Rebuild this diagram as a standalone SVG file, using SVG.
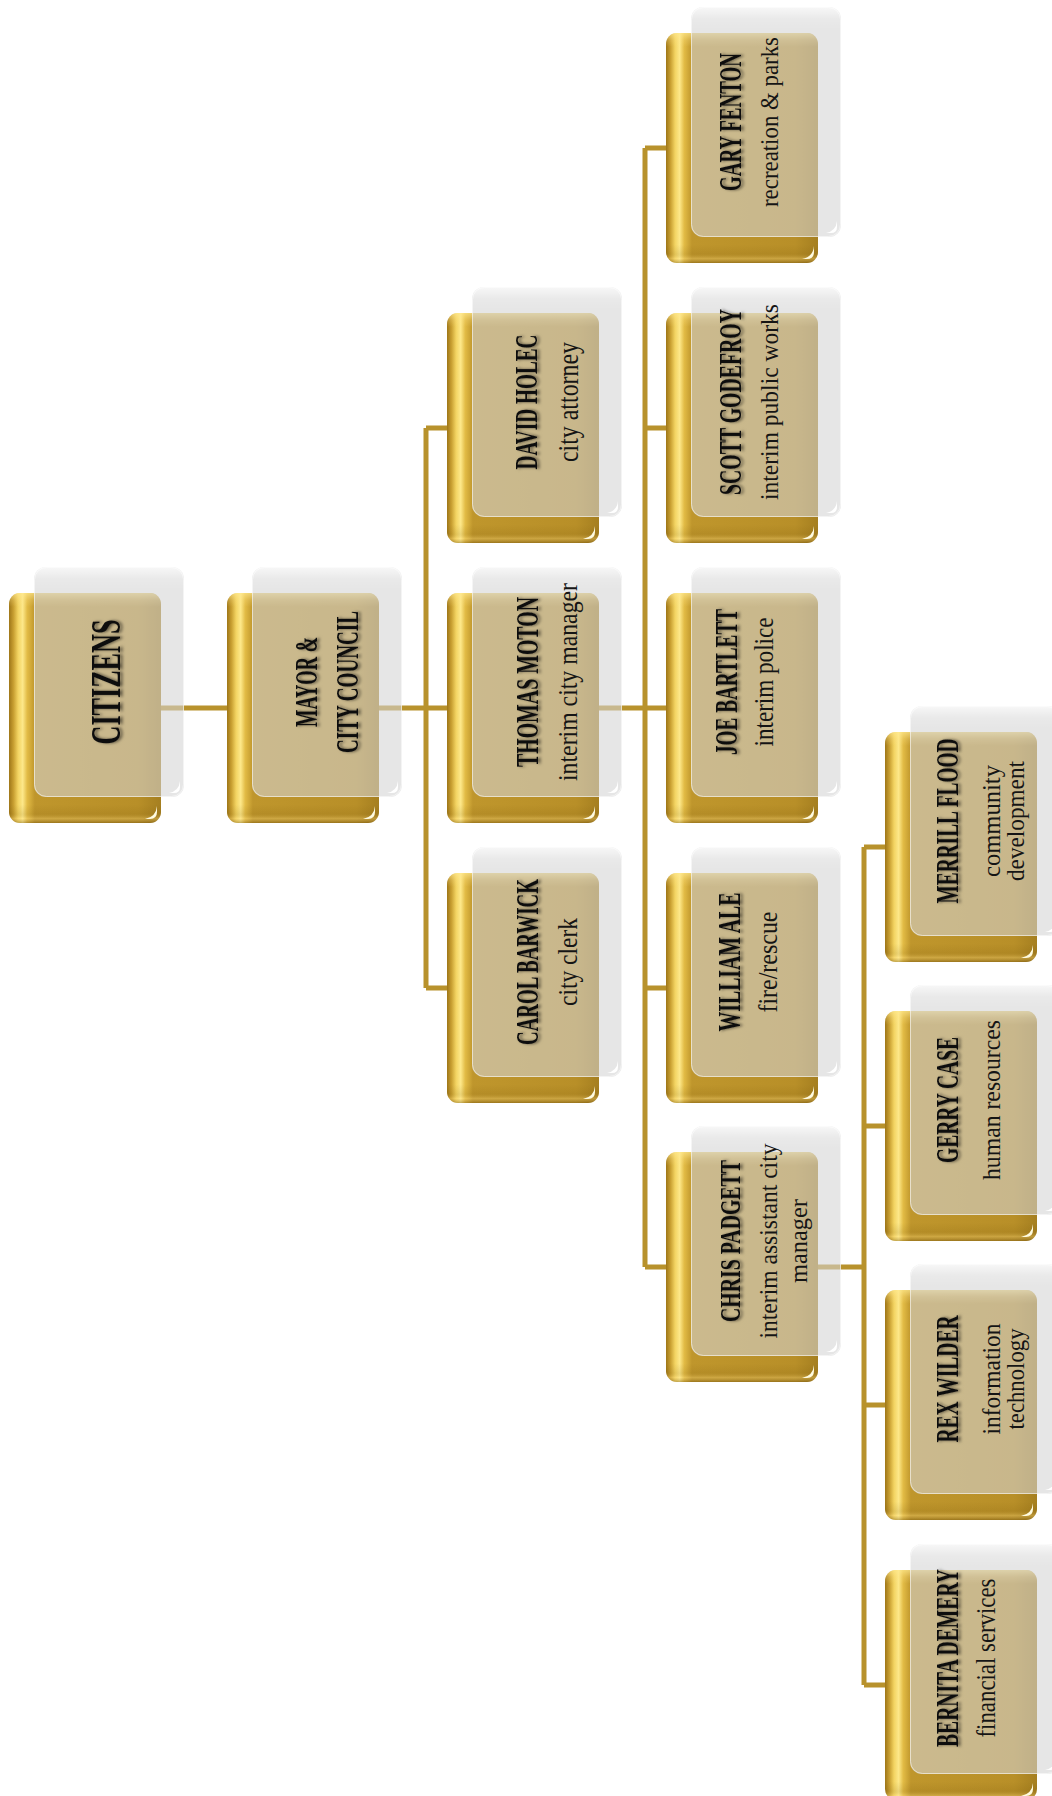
<svg xmlns="http://www.w3.org/2000/svg" xmlns:xlink="http://www.w3.org/1999/xlink" width="1052" height="1796" viewBox="0 0 1052 1796">
<style>
.cn{fill:none;stroke:#b8922c;stroke-width:5;stroke-linecap:butt}
.nm{font-family:"Liberation Serif","DejaVu Serif",serif;font-weight:bold;fill:#111;text-anchor:middle;filter:url(#ts)}
.sb{font-family:"Liberation Serif","DejaVu Serif",serif;font-weight:normal;fill:#151515;text-anchor:middle}
</style>
<defs>
<linearGradient id="goldH" x1="0" y1="0" x2="1" y2="0">
<stop offset="0" stop-color="#9e7618"/>
<stop offset="0.03" stop-color="#c9a032"/>
<stop offset="0.06" stop-color="#f3d462"/>
<stop offset="0.09" stop-color="#fde88a"/>
<stop offset="0.12" stop-color="#e2bb45"/>
<stop offset="0.17" stop-color="#bf962c"/>
<stop offset="0.85" stop-color="#b88f28"/>
<stop offset="1" stop-color="#a57f20"/>
</linearGradient>
<linearGradient id="goldV" x1="0" y1="0" x2="0" y2="1">
<stop offset="0" stop-color="#ffe990" stop-opacity="0.7"/>
<stop offset="0.03" stop-color="#ffe48a" stop-opacity="0.25"/>
<stop offset="0.06" stop-color="#ffe48a" stop-opacity="0"/>
<stop offset="0.92" stop-color="#6a4a00" stop-opacity="0"/>
<stop offset="0.96" stop-color="#6a4a00" stop-opacity="0.12"/>
<stop offset="0.98" stop-color="#ffe08a" stop-opacity="0.25"/>
<stop offset="1" stop-color="#5a3c00" stop-opacity="0.35"/>
</linearGradient>
<linearGradient id="ovV" x1="0" y1="0" x2="0" y2="1">
<stop offset="0" stop-color="#ffffff" stop-opacity="0.7"/>
<stop offset="0.05" stop-color="#ffffff" stop-opacity="0.15"/>
<stop offset="0.1" stop-color="#ffffff" stop-opacity="0"/>
</linearGradient>
<filter id="ts" x="-20%" y="-40%" width="140%" height="180%">
<feDropShadow dx="0" dy="2.5" stdDeviation="1.6" flood-color="#000" flood-opacity="0.55"/>
</filter>
<g id="box">
<rect width="152" height="230" rx="11" fill="url(#goldH)"/>
<rect width="152" height="230" rx="11" fill="url(#goldV)"/>
<path d="M136,226 L141,226 Q148,226 148,219 L148,213 Q147,224 136,226Z" fill="#fffbe0"/>
<rect x="25" y="-26" width="150" height="230" rx="12" fill="#d4d4d4" fill-opacity="0.58"/>
<rect x="25" y="-26" width="150" height="230" rx="12" fill="url(#ovV)"/>
<rect x="25.5" y="-25.5" width="149" height="229" rx="12" fill="none" stroke="#ffffff" stroke-opacity="0.55"/>
<path d="M160,200 L165,200 Q171,200 171,194 L171,188 Q170,198 160,200Z" fill="#ffffff"/>
</g>
</defs>
<rect width="1052" height="1796" fill="#ffffff"/>
<g id="connectors">
<path class="cn" d="M160,708 H227"/>
<path class="cn" d="M379,708 H426 M426,428 V988 M426,428 H447 M426,708 H447 M426,988 H447"/>
<path class="cn" d="M598,708 H645 M645,148 V1267 M645,148 H666 M645,428 H666 M645,708 H666 M645,988 H666 M645,1267 H666"/>
<path class="cn" d="M817,1267 H864 M864,847 V1685 M864,847 H885 M864,1126 H885 M864,1405 H885 M864,1685 H885"/>
</g>
<g id="n-citizens"><use href="#box" x="9" y="593"/>
<text class="nm" font-size="42" transform="translate(120,682) rotate(-90)" textLength="125" lengthAdjust="spacingAndGlyphs">CITIZENS</text></g>
<g id="n-mayor"><use href="#box" x="227" y="593"/>
<text class="nm" font-size="32" transform="translate(317,682) rotate(-90)" textLength="90" lengthAdjust="spacingAndGlyphs">MAYOR &amp;</text>
<text class="nm" font-size="32" transform="translate(358,682) rotate(-90)" textLength="142" lengthAdjust="spacingAndGlyphs">CITY COUNCIL</text></g>
<g id="n-holec"><use href="#box" x="447" y="313"/>
<text class="nm" font-size="32" transform="translate(537,402) rotate(-90)" textLength="135" lengthAdjust="spacingAndGlyphs">DAVID HOLEC</text>
<text class="sb" font-size="30" transform="translate(578,402) rotate(-90)" textLength="120" lengthAdjust="spacingAndGlyphs">city attorney</text></g>
<g id="n-moton"><use href="#box" x="447" y="593"/>
<text class="nm" font-size="32" transform="translate(538,682) rotate(-90)" textLength="170" lengthAdjust="spacingAndGlyphs">THOMAS MOTON</text>
<text class="sb" font-size="28" transform="translate(577,682) rotate(-90)" textLength="198" lengthAdjust="spacingAndGlyphs">interim city manager</text></g>
<g id="n-barwick"><use href="#box" x="447" y="873"/>
<text class="nm" font-size="32" transform="translate(538,962) rotate(-90)" textLength="166" lengthAdjust="spacingAndGlyphs">CAROL BARWICK</text>
<text class="sb" font-size="28" transform="translate(577,962) rotate(-90)" textLength="88" lengthAdjust="spacingAndGlyphs">city clerk</text></g>
<g id="n-fenton"><use href="#box" x="666" y="33"/>
<text class="nm" font-size="32" transform="translate(741,122) rotate(-90)" textLength="138" lengthAdjust="spacingAndGlyphs">GARY FENTON</text>
<text class="sb" font-size="25" transform="translate(778,122) rotate(-90)" textLength="170" lengthAdjust="spacingAndGlyphs">recreation &amp; parks</text></g>
<g id="n-godefroy"><use href="#box" x="666" y="313"/>
<text class="nm" font-size="32" transform="translate(741,402) rotate(-90)" textLength="186" lengthAdjust="spacingAndGlyphs">SCOTT GODEFROY</text>
<text class="sb" font-size="25" transform="translate(778,402) rotate(-90)" textLength="196" lengthAdjust="spacingAndGlyphs">interim public works</text></g>
<g id="n-bartlett"><use href="#box" x="666" y="593"/>
<text class="nm" font-size="32" transform="translate(737,682) rotate(-90)" textLength="146" lengthAdjust="spacingAndGlyphs">JOE BARTLETT</text>
<text class="sb" font-size="27" transform="translate(773,682) rotate(-90)" textLength="129" lengthAdjust="spacingAndGlyphs">interim police</text></g>
<g id="n-ale"><use href="#box" x="666" y="873"/>
<text class="nm" font-size="32" transform="translate(740,962) rotate(-90)" textLength="139" lengthAdjust="spacingAndGlyphs">WILLIAM ALE</text>
<text class="sb" font-size="27" transform="translate(777,962) rotate(-90)" textLength="101" lengthAdjust="spacingAndGlyphs">fire/rescue</text></g>
<g id="n-padgett"><use href="#box" x="666" y="1152"/>
<text class="nm" font-size="30" transform="translate(740,1241) rotate(-90)" textLength="162" lengthAdjust="spacingAndGlyphs">CHRIS PADGETT</text>
<text class="sb" font-size="25" transform="translate(777,1241) rotate(-90)" textLength="195" lengthAdjust="spacingAndGlyphs">interim assistant city</text>
<text class="sb" font-size="25" transform="translate(807,1241) rotate(-90)" textLength="84" lengthAdjust="spacingAndGlyphs">manager</text></g>
<g id="n-flood"><use href="#box" x="885" y="732"/>
<text class="nm" font-size="31" transform="translate(958,821) rotate(-90)" textLength="165" lengthAdjust="spacingAndGlyphs">MERRILL FLOOD</text>
<text class="sb" font-size="25" transform="translate(1000,821) rotate(-90)" textLength="112" lengthAdjust="spacingAndGlyphs">community</text>
<text class="sb" font-size="25" transform="translate(1024,821) rotate(-90)" textLength="120" lengthAdjust="spacingAndGlyphs">development</text></g>
<g id="n-case"><use href="#box" x="885" y="1011"/>
<text class="nm" font-size="31" transform="translate(958,1100) rotate(-90)" textLength="126" lengthAdjust="spacingAndGlyphs">GERRY CASE</text>
<text class="sb" font-size="26" transform="translate(1000,1100) rotate(-90)" textLength="160" lengthAdjust="spacingAndGlyphs">human resources</text></g>
<g id="n-wilder"><use href="#box" x="885" y="1290"/>
<text class="nm" font-size="31" transform="translate(958,1379) rotate(-90)" textLength="127" lengthAdjust="spacingAndGlyphs">REX WILDER</text>
<text class="sb" font-size="25" transform="translate(1000,1379) rotate(-90)" textLength="111" lengthAdjust="spacingAndGlyphs">information</text>
<text class="sb" font-size="25" transform="translate(1024,1379) rotate(-90)" textLength="101" lengthAdjust="spacingAndGlyphs">technology</text></g>
<g id="n-demery"><use href="#box" x="885" y="1570"/>
<text class="nm" font-size="31" transform="translate(958,1658) rotate(-90)" textLength="178" lengthAdjust="spacingAndGlyphs">BERNITA DEMERY</text>
<text class="sb" font-size="27" transform="translate(995,1658) rotate(-90)" textLength="159" lengthAdjust="spacingAndGlyphs">financial services</text></g>
</svg>
